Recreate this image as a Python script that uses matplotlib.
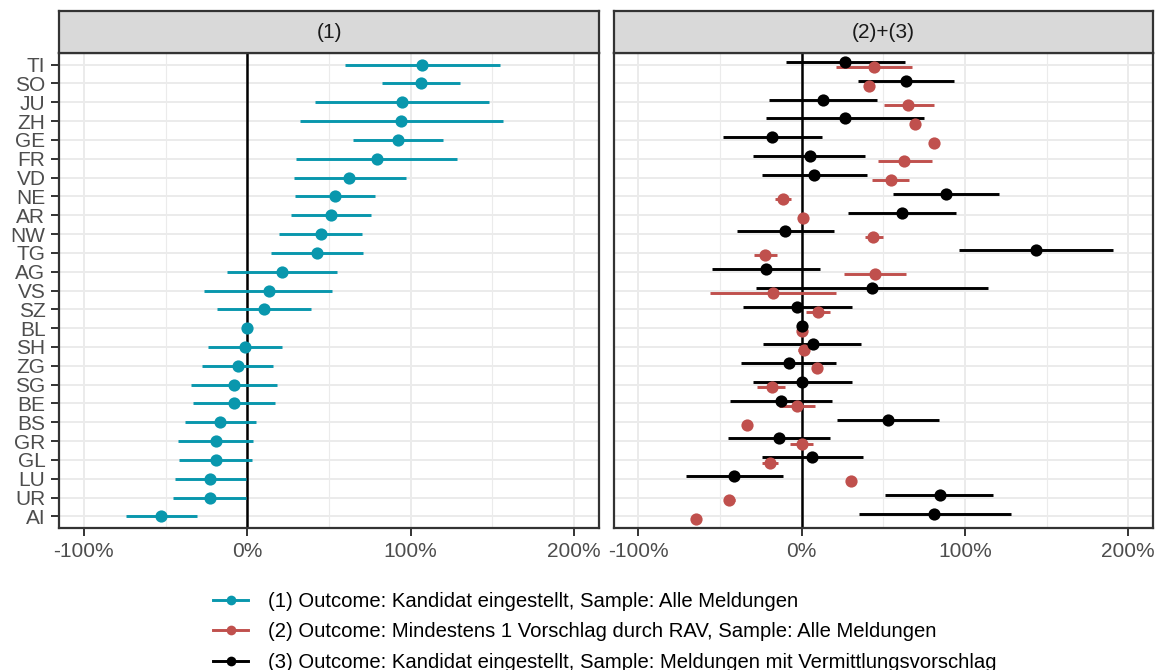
import matplotlib.pyplot as plt
import numpy as np
from matplotlib.lines import Line2D
from matplotlib.ticker import FixedLocator, PercentFormatter

plt.rcParams['font.family'] = ['Liberation Sans', 'DejaVu Sans']
plt.rcParams['axes.unicode_minus'] = False

cantons = ["TI", "SO", "JU", "ZH", "GE", "FR", "VD", "NE", "AR", "NW", "TG", "AG", "VS",
           "SZ", "BL", "SH", "ZG", "SG", "BE", "BS", "GR", "GL", "LU", "UR", "AI"]

# (1) Kandidat eingestellt, alle Meldungen
est1 = [1.070, 1.061, 0.946, 0.941, 0.923, 0.794, 0.625, 0.536, 0.513, 0.452, 0.424, 0.211, 0.131,
        0.101, 0.0, -0.014, -0.059, -0.080, -0.084, -0.166, -0.192, -0.192, -0.225, -0.230, -0.525]
lo1 = [0.595, 0.824, 0.412, 0.323, 0.646, 0.300, 0.286, 0.295, 0.267, 0.197, 0.145, -0.122, -0.262,
       -0.185, 0.0, -0.241, -0.279, -0.342, -0.335, -0.384, -0.424, -0.419, -0.443, -0.452, -0.742]
hi1 = [1.546, 1.300, 1.480, 1.567, 1.197, 1.286, 0.970, 0.782, 0.759, 0.700, 0.705, 0.548, 0.520,
       0.391, 0.0, 0.211, 0.157, 0.180, 0.169, 0.052, 0.035, 0.028, -0.007, -0.007, -0.309]

# (2) Mindestens 1 Vorschlag durch RAV, alle Meldungen
est2 = [0.441, 0.413, 0.654, 0.696, 0.813, 0.628, 0.546, -0.117, 0.007, 0.439, -0.224, 0.450, -0.178,
        0.098, 0.0, 0.011, 0.091, -0.185, -0.030, -0.337, 0.0, -0.196, 0.304, -0.443, -0.650]
lo2 = [0.211, 0.403, 0.502, 0.686, 0.803, 0.465, 0.433, -0.165, -0.003, 0.387, -0.291, 0.261, -0.561,
       0.028, 0.0, -0.022, 0.063, -0.272, -0.141, -0.347, -0.070, -0.246, 0.294, -0.478, -0.660]
hi2 = [0.676, 0.423, 0.811, 0.706, 0.823, 0.798, 0.659, -0.067, 0.017, 0.498, -0.154, 0.641, 0.209,
       0.174, 0.0, 0.043, 0.122, -0.100, 0.083, -0.327, 0.070, -0.148, 0.314, -0.409, -0.640]

# (3) Kandidat eingestellt, Meldungen mit Vermittlungsvorschlag
est3 = [0.267, 0.639, 0.128, 0.263, -0.183, 0.050, 0.076, 0.885, 0.615, -0.100, 1.437, -0.217, 0.433,
        -0.028, 0.0, 0.067, -0.076, 0.002, -0.126, 0.530, -0.139, 0.065, -0.413, 0.846, 0.813]
lo3 = [-0.098, 0.346, -0.198, -0.220, -0.485, -0.296, -0.246, 0.557, 0.285, -0.396, 0.963, -0.548, -0.278,
       -0.361, 0.0, -0.235, -0.370, -0.300, -0.437, 0.215, -0.450, -0.243, -0.707, 0.511, 0.350]
hi3 = [0.633, 0.935, 0.459, 0.752, 0.122, 0.389, 0.402, 1.207, 0.948, 0.198, 1.907, 0.113, 1.143,
       0.309, 0.0, 0.365, 0.213, 0.309, 0.183, 0.843, 0.172, 0.374, -0.117, 1.174, 1.280]

labels = ["(1) Outcome: Kandidat eingestellt, Sample: Alle Meldungen",
          "(2) Outcome: Mindestens 1 Vorschlag durch RAV, Sample: Alle Meldungen",
          "(3) Outcome: Kandidat eingestellt, Sample: Meldungen mit Vermittlungsvorschlag"]
colors = ["#0997AD", "#C0504D", "#000000"]

W, H = 1159, 670
fig = plt.figure(figsize=(W / 100, H / 100), dpi=100)

ypos = np.arange(len(cantons), 0, -1)
dodge = 0.14
fs = 15
txt_grey = "#4D4D4D"
frame_grey = "#333333"


def px_box(x0, y0, x1, y1):
    return [x0 / W, 1 - y1 / H, (x1 - x0) / W, (y1 - y0) / H]


def setup_panel(ax, title, strip_box, show_y):
    ax.set_xlim(-1.15, 2.15)
    ax.set_ylim(0.4, len(cantons) + 0.6)
    ax.xaxis.set_major_locator(FixedLocator([-1, 0, 1, 2]))
    ax.xaxis.set_minor_locator(FixedLocator([-0.5, 0.5, 1.5]))
    ax.xaxis.set_major_formatter(PercentFormatter(1.0, decimals=0))
    ax.set_yticks(ypos)
    ax.set_yticklabels(cantons if show_y else [])
    ax.grid(which='major', color='#EBEBEB', lw=1.4, zorder=0)
    ax.grid(which='minor', axis='x', color='#EBEBEB', lw=0.8, zorder=0)
    ax.set_axisbelow(True)
    ax.tick_params(axis='x', which='major', length=6, width=1.4, color=frame_grey,
                   labelsize=fs, labelcolor=txt_grey, pad=4)
    ax.tick_params(axis='x', which='minor', length=0)
    if show_y:
        ax.tick_params(axis='y', length=6, width=1.4, color=frame_grey,
                       labelsize=fs, labelcolor=txt_grey, pad=4)
    else:
        ax.tick_params(axis='y', length=0)
    for s in ax.spines.values():
        s.set_color(frame_grey)
        s.set_linewidth(1.6)
    ax.axvline(0, color='black', lw=1.8, zorder=2)

    sax = fig.add_axes(strip_box)
    sax.set_facecolor('#D9D9D9')
    sax.set_xticks([])
    sax.set_yticks([])
    for s in sax.spines.values():
        s.set_color(frame_grey)
        s.set_linewidth(1.6)
    sax.text(0.5, 0.5, title, ha='center', va='center', fontsize=fs, color='#1A1A1A',
             transform=sax.transAxes)


def draw_series(ax, y, est, lo, hi, color):
    ax.hlines(y, lo, hi, color=color, lw=2.1, zorder=3)
    ax.plot(est, y, 'o', color=color, ms=8.8, mec='none', zorder=4)


ax1 = fig.add_axes(px_box(59.3, 53.3, 598.7, 527.7))
setup_panel(ax1, "(1)", px_box(59.3, 10.7, 598.7, 53.3), True)
draw_series(ax1, ypos, est1, lo1, hi1, colors[0])

ax2 = fig.add_axes(px_box(614, 53.3, 1152.7, 527.7))
setup_panel(ax2, "(2)+(3)", px_box(614, 10.7, 1152.7, 53.3), False)
draw_series(ax2, ypos - dodge, est2, lo2, hi2, colors[1])
draw_series(ax2, ypos + dodge, est3, lo3, hi3, colors[2])

handles = [Line2D([], [], color=c, lw=2.1, marker='o', ms=7, mec='none') for c in colors]
fig.legend(handles, labels, loc='upper left', bbox_to_anchor=(213 / W, 1 - 592 / H),
           frameon=False, fontsize=14.6, borderpad=0, borderaxespad=0,
           handlelength=1.75, handletextpad=0.98, labelspacing=0.56)

fig.savefig("out.png", dpi=100)
